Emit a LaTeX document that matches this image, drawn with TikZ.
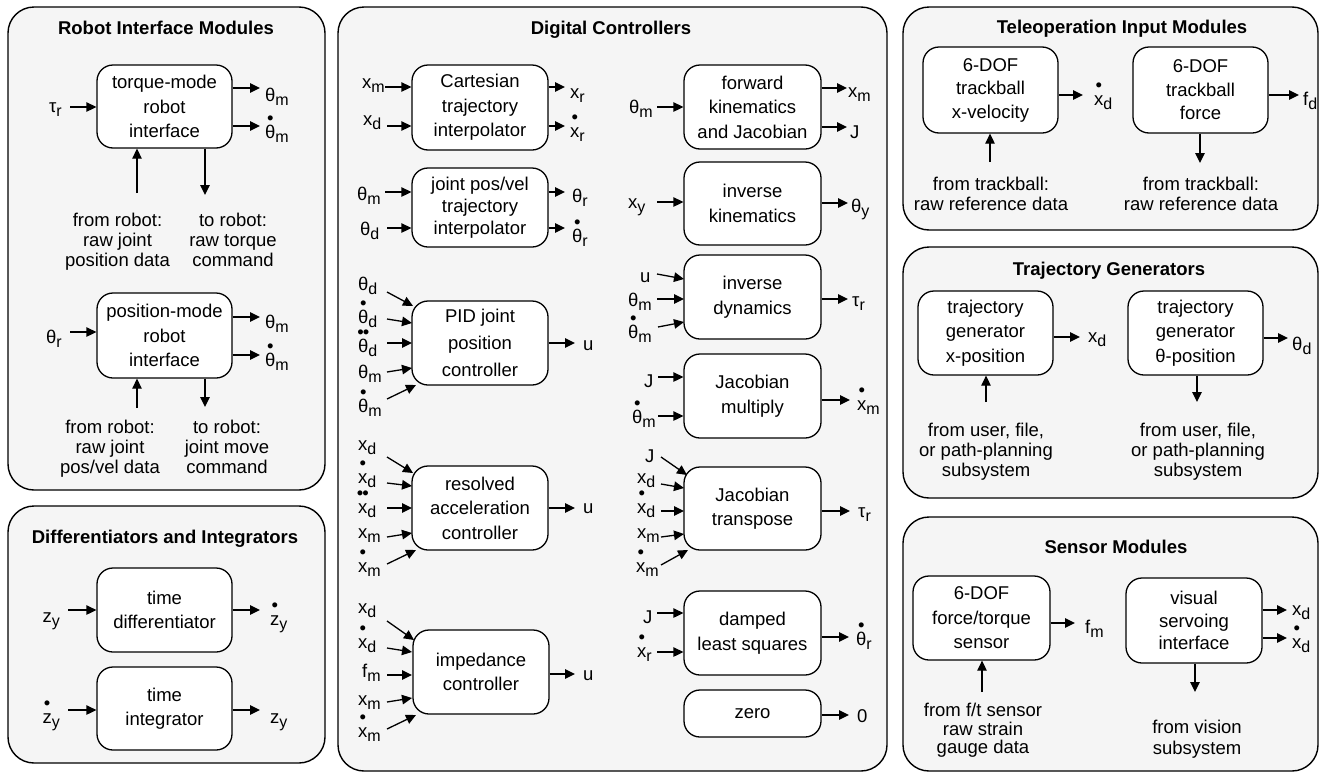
\documentclass[tikz,border=0pt]{standalone}
\usepackage{fontspec}
\setmainfont{Liberation Sans}
\usetikzlibrary{arrows.meta,calc}
\newcommand\lsub[2]{#1\raisebox{-0.22em}{\fontsize{16}{16}\selectfont #2}}
\newcommand\dotab[1]{\ooalign{#1\cr\hidewidth\smash{\raisebox{0.72em}{•}}\hidewidth\cr}}
\newcommand\ddotab[1]{\ooalign{#1\cr\hidewidth\smash{\raisebox{0.72em}{•\kern-0.05em•}}\hidewidth\cr}}
% output arrow: box, name, arrowY, endX, labelX, labelBase, text
\newcommand\oarr[7]{\coordinate (#2) at (#4,#3);\draw[arr] (#1.east|-#2) -- (#2);\node[lbl,anchor=base west] (#2l) at (#5,#6) {#7};}
% input arrow: box, name, arrowY, startX, anchor, labelX, labelBase, text
\newcommand\iarr[8]{\coordinate (#2) at (#4,#3);\draw[arr] (#2) -- (#1.west|-#2);\node[lbl,anchor=#5] (#2l) at (#6,#7) {#8};}
% angled input: name, sx, sy, ex, ey, anchor, lx, ly, text
\newcommand\aarr[9]{\coordinate (#1) at (#2,#3);\coordinate (#1e) at (#4,#5);\draw[arr] (#1) -- (#1e);\node[lbl,anchor=#6] (#1l) at (#7,#8) {#9};}
\begin{document}
\begin{tikzpicture}[x=1pt,y=-1pt,
  panel/.style={draw,line width=1.4,rounded corners=26,fill=black!4},
  box/.style={draw,line width=1.3,rounded corners=16,fill=white,align=center,inner sep=0,
     font=\fontsize{18.5}{24.5}\selectfont},
  arr/.style={-{Triangle[length=10,width=9.5]},line width=1.3},
  lbl/.style={inner sep=0,font=\fontsize{18.5}{22}\selectfont},
  note/.style={align=center,inner sep=0,font=\fontsize{18.5}{19.8}\selectfont},
  ttl/.style={inner sep=0,font=\bfseries\fontsize{18.5}{22}\selectfont}]
\useasboundingbox (0,0) rectangle (1323,774);

% ---------------- Robot Interface Modules
\draw[panel] (8,7) rectangle (325,490);
\node[ttl,anchor=base] (t1) at (166,34) {Robot Interface Modules};
\node[box,minimum width=135,minimum height=83] (A) at (164.5,106.5) {torque-mode\\robot\\interface};
\iarr{A}{Ai}{107}{70}{base east}{62}{112}{\lsub{τ}{r}}
\oarr{A}{Ao1}{88}{260}{265}{101}{\lsub{θ}{m}}
\oarr{A}{Ao2}{126}{260}{265}{138}{\lsub{\dotab{θ}}{m}}
\coordinate (Au) at (137,193); \draw[arr] (Au) -- (A.south-|Au);
\coordinate (Ad) at (205,195); \draw[arr] (A.south-|Ad) -- (Ad);
\node[note,anchor=north] (An1) at (117.5,213) {from robot:\\raw joint\\position data};
\node[note,anchor=north] (An2) at (233,213) {to robot:\\raw torque\\command};

\node[box,minimum width=135,minimum height=85] (B) at (164.5,335.5) {position-mode\\robot\\interface};
\iarr{B}{Bi}{332}{70}{base east}{62}{343}{\lsub{θ}{r}}
\oarr{B}{Bo1}{317}{260}{265}{328}{\lsub{θ}{m}}
\oarr{B}{Bo2}{355}{260}{265}{366}{\lsub{\dotab{θ}}{m}}
\coordinate (Bu) at (137,408); \draw[arr] (Bu) -- (B.south-|Bu);
\coordinate (Bd) at (205,407); \draw[arr] (B.south-|Bd) -- (Bd);
\node[note,anchor=north] (Bn1) at (110,420) {from robot:\\raw joint\\pos/vel data};
\node[note,anchor=north] (Bn2) at (227,420) {to robot:\\joint move\\command};

% ---------------- Differentiators and Integrators
\draw[panel] (8,506) rectangle (325,763);
\node[ttl,anchor=base] (t2) at (165,543) {Differentiators and Integrators};
\node[box,minimum width=135,minimum height=84] (C) at (164.5,610) {time\\differentiator};
\iarr{C}{Ci}{610}{68}{base east}{60}{622}{\lsub{z}{y}}
\oarr{C}{Co}{610}{260}{270}{625}{\lsub{\dotab{z}}{y}}
\node[box,minimum width=135,minimum height=83] (D) at (164.5,708.5) {time\\integrator};
\iarr{D}{Di}{710}{68}{base east}{60}{723}{\lsub{\dotab{z}}{y}}
\oarr{D}{Do}{710}{260}{270}{723}{\lsub{z}{y}}

% ---------------- Digital Controllers
\draw[panel] (338,7) rectangle (887,771);
\node[ttl,anchor=base] (t3) at (611,34) {Digital Controllers};
\node[box,minimum width=136,minimum height=85] (E) at (480,107.5) {Cartesian\\trajectory\\interpolator};
\iarr{E}{Ei1}{87}{385}{base west}{362}{88}{\lsub{x}{m}}
\iarr{E}{Ei2}{126}{387}{base west}{363}{125}{\lsub{x}{d}}
\oarr{E}{Eo1}{87}{565}{570}{98}{\lsub{x}{r}}
\oarr{E}{Eo2}{126}{565}{570}{137}{\lsub{\dotab{x}}{r}}

\node[box,minimum width=136,minimum height=79,font=\fontsize{18.5}{22}\selectfont] (F) at (480,207.5) {joint pos/vel\\trajectory\\interpolator};
\iarr{F}{Fi1}{192}{385}{base west}{357}{200}{\lsub{θ}{m}}
\iarr{F}{Fi2}{228}{387}{base west}{360}{235}{\lsub{θ}{d}}
\oarr{F}{Fo1}{192}{565}{572}{202}{\lsub{θ}{r}}
\oarr{F}{Fo2}{228}{565}{572}{242}{\lsub{\dotab{θ}}{r}}

\node[box,minimum width=136,minimum height=84,font=\fontsize{18.5}{27}\selectfont] (G) at (480,343) {PID joint\\position\\controller};
\aarr{Gi1}{387}{292}{413}{306}{base west}{358}{290}{\lsub{θ}{d}}
\aarr{Gi2}{387}{319}{412}{323}{base west}{358}{323}{\lsub{\dotab{θ}}{d}}
\aarr{Gi3}{387}{343}{412}{343}{base west}{358}{352}{\lsub{\ddotab{θ}}{d}}
\aarr{Gi4}{387}{372}{412}{368}{base west}{358}{378}{\lsub{θ}{m}}
\aarr{Gi5}{387}{399}{416}{385}{base west}{358}{412}{\lsub{\dotab{θ}}{m}}
\oarr{G}{Go}{343}{575}{583}{350}{u}

\node[box,minimum width=136,minimum height=84] (H) at (480,508) {resolved\\acceleration\\controller};
\aarr{Hi1}{387}{457}{413}{473}{base west}{358}{450}{\lsub{x}{d}}
\aarr{Hi2}{387}{483}{412}{486}{base west}{358}{483}{\lsub{\dotab{x}}{d}}
\aarr{Hi3}{387}{508}{412}{508}{base west}{358}{513}{\lsub{\ddotab{x}}{d}}
\aarr{Hi4}{387}{537}{412}{533}{base west}{358}{538}{\lsub{x}{m}}
\aarr{Hi5}{387}{564}{416}{550}{base west}{358}{572}{\lsub{\dotab{x}}{m}}
\oarr{H}{Ho}{508}{575}{583}{513}{u}

\node[box,minimum width=136,minimum height=84] (I) at (481,672) {impedance\\controller};
\aarr{Ii1}{387}{621}{414}{640}{base west}{358}{613}{\lsub{x}{d}}
\aarr{Ii2}{387}{648}{412}{652}{base west}{358}{648}{\lsub{\dotab{x}}{d}}
\aarr{Ii3}{387}{675}{412}{675}{base west}{362}{677}{\lsub{f}{m}}
\aarr{Ii4}{387}{702}{412}{698}{base west}{358}{705}{\lsub{x}{m}}
\aarr{Ii5}{387}{729}{416}{715}{base west}{358}{737}{\lsub{\dotab{x}}{m}}
\oarr{I}{Io}{674}{575}{583}{680}{u}

\node[box,minimum width=137,minimum height=84] (J) at (752.5,107) {forward\\kinematics\\and Jacobian};
\iarr{J}{Ji}{107}{657}{base east}{653}{113}{\lsub{θ}{m}}
\oarr{J}{Jo1}{88}{847}{848}{97}{\lsub{x}{m}}
\oarr{J}{Jo2}{127}{847}{850}{138}{J}

\node[box,minimum width=137,minimum height=83] (K) at (752.5,203.5) {inverse\\kinematics};
\iarr{K}{Ki}{202}{657}{base west}{628}{208}{\lsub{x}{y}}
\oarr{K}{Ko}{203}{848}{851}{212}{\lsub{θ}{y}}

\node[box,minimum width=137,minimum height=84] (L) at (752.5,297) {inverse\\dynamics};
\aarr{Li1}{657}{274}{684}{279}{base west}{640}{282}{u}
\aarr{Li2}{657}{299}{684}{299}{base west}{628}{306}{\lsub{θ}{m}}
\aarr{Li3}{658}{327}{684}{322}{base west}{628}{338}{\lsub{\dotab{θ}}{m}}
\oarr{L}{Lo}{299}{848}{852}{306}{\lsub{τ}{r}}

\node[box,minimum width=137,minimum height=84] (M) at (752.5,396) {Jacobian\\multiply};
\iarr{M}{Mi1}{377}{658}{base west}{644}{387}{J}
\iarr{M}{Mi2}{416}{658}{base west}{632}{423}{\lsub{\dotab{θ}}{m}}
\oarr{M}{Mo}{400}{850}{857}{410}{\lsub{\dotab{x}}{m}}

\node[box,minimum width=137,minimum height=83] (N) at (752.5,508.5) {Jacobian\\transpose};
\aarr{Ni1}{661}{457}{687}{475}{base west}{645}{462}{J}
\aarr{Ni2}{661}{484}{684}{488}{base west}{637}{483}{\lsub{x}{d}}
\aarr{Ni3}{661}{511}{684}{511}{base west}{637}{513}{\lsub{\dotab{x}}{d}}
\aarr{Ni4}{661}{537}{684}{534}{base west}{637}{538}{\lsub{x}{m}}
\aarr{Ni5}{661}{565}{688}{550}{base west}{636}{572}{\lsub{\dotab{x}}{m}}
\oarr{N}{No}{511}{850}{858}{517}{\lsub{τ}{r}}

\node[box,minimum width=137,minimum height=84] (O) at (752.5,633) {damped\\least squares};
\iarr{O}{Oi1}{613}{657}{base west}{643}{623}{J}
\iarr{O}{Oi2}{652}{657}{base west}{637}{657}{\lsub{\dotab{x}}{r}}
\oarr{O}{Oo}{637}{849}{856}{645}{\lsub{\dotab{θ}}{r}}

\node[box,minimum width=137,minimum height=47] (P) at (752.5,713.5) {zero};
\oarr{P}{Po}{715}{849}{857}{722}{0}

% ---------------- Teleoperation Input Modules
\draw[panel] (903,7) rectangle (1318,230);
\node[ttl,anchor=base] (t4) at (1122,33) {Teleoperation Input Modules};
\node[box,minimum width=135,minimum height=86,font=\fontsize{18.5}{23.5}\selectfont] (Q) at (990.5,90) {6-DOF\\trackball\\x-velocity};
\oarr{Q}{Qo}{95}{1083}{1094}{105}{\lsub{\dotab{x}}{d}}
\coordinate (Qu) at (990,162); \draw[arr] (Qu) -- (Q.south-|Qu);
\node[note,anchor=north] (Qn) at (991,177) {from trackball:\\raw reference data};
\node[box,minimum width=135,minimum height=86,font=\fontsize{18.5}{23.5}\selectfont] (R) at (1200.5,90) {6-DOF\\trackball\\force};
\oarr{R}{Ro}{95}{1299}{1303}{105}{\lsub{f}{d}}
\coordinate (Rd) at (1200,163); \draw[arr] (R.south-|Rd) -- (Rd);
\node[note,anchor=north] (Rn) at (1201,177) {from trackball:\\raw reference data};

% ---------------- Trajectory Generators
\draw[panel] (903,247) rectangle (1318,498);
\node[ttl,anchor=base] (t5) at (1109,275) {Trajectory Generators};
\node[box,minimum width=135,minimum height=84] (S) at (985.5,333) {trajectory\\generator\\x-position};
\oarr{S}{So}{337}{1080}{1088}{342}{\lsub{x}{d}}
\coordinate (Su) at (986,402); \draw[arr] (Su) -- (S.south-|Su);
\node[note,anchor=north] (Sn) at (986,423) {from user, file,\\or path-planning\\subsystem};
\node[box,minimum width=135,minimum height=84] (T) at (1195.5,333) {trajectory\\generator\\θ-position};
\oarr{T}{To}{338}{1288}{1292}{350}{\lsub{θ}{d}}
\coordinate (Td) at (1197,402); \draw[arr] (T.south-|Td) -- (Td);
\node[note,anchor=north] (Tn) at (1198,423) {from user, file,\\or path-planning\\subsystem};

% ---------------- Sensor Modules
\draw[panel] (903,517) rectangle (1318,771);
\node[ttl,anchor=base] (t6) at (1116,553) {Sensor Modules};
\node[box,minimum width=137,minimum height=84] (U) at (981.5,618) {6-DOF\\force/torque\\sensor};
\oarr{U}{Uo}{623}{1075}{1085}{633}{\lsub{f}{m}}
\coordinate (Uu) at (982,692); \draw[arr] (Uu) -- (U.south-|Uu);
\node[note,anchor=north,font=\fontsize{18.5}{18.5}\selectfont] (Un) at (983,703) {from f/t sensor\\raw strain\\gauge data};
\node[box,minimum width=136,minimum height=85,font=\fontsize{18.5}{22.5}\selectfont] (V) at (1194,620.5) {visual\\servoing\\interface};
\oarr{V}{Vo1}{610}{1287}{1292}{615}{\lsub{x}{d}}
\oarr{V}{Vo2}{638}{1287}{1292}{648}{\lsub{\dotab{x}}{d}}
\coordinate (Vd) at (1195,692); \draw[arr] (V.south-|Vd) -- (Vd);
\node[note,anchor=north,font=\fontsize{18.5}{21}\selectfont] (Vn) at (1197,720) {from vision\\subsystem};
\end{tikzpicture}
\end{document}
